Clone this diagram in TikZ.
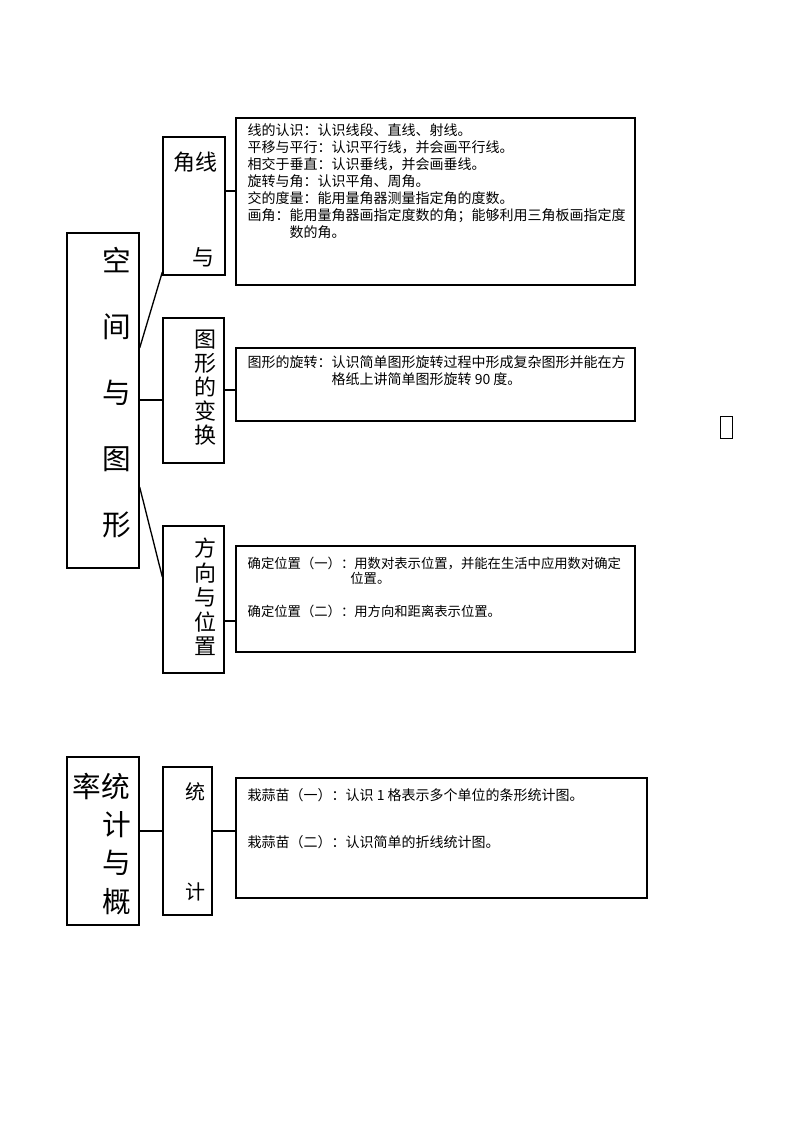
\documentclass[tikz,border=0pt]{standalone}
\usepackage{fontspec}
\setmainfont{Noto Sans CJK SC}
\usetikzlibrary{fit}

\begin{document}
\begin{tikzpicture}
    [x=0.75pt, y=-0.75pt,
    box/.style={draw=black, line width=1pt, inner sep=0pt},
    bigchar/.style={font=\fontsize{21.5}{49.5}\selectfont, align=center, inner sep=0pt},
    midchar/.style={font=\fontsize{16.5}{18}\selectfont, align=center, inner sep=0pt},
    note/.style={font=\fontsize{10.5}{12.75}\selectfont, align=left, inner sep=0pt, anchor=north west},
    line width=1pt]
    \useasboundingbox (0,0) rectangle (800,1132);
    % space and shape
    \node[box, fit={(67,233) (139,568)}] (space) {};
    \node[box, fit={(163,137) (225,275)}] (lines) {};
    \node[box, fit={(163,318) (224,463)}] (trans) {};
    \node[box, fit={(163,526) (224,673)}] (place) {};
    \node[box, fit={(236,118) (635,285)}] (linesnote) {};
    \node[box, fit={(236,348) (635,421)}] (transnote) {};
    \node[box, fit={(236,546) (635,652)}] (placenote) {};
    \node[bigchar] (spacetext) at (117,393) {空\\间\\与\\图\\形};
    \node[midchar] (linestop) at (195,162) {角线};
    \node[midchar] (linesbot) at (203,257) {与};
    \node[midchar] (transtext) at (205,388) {图\\形\\的\\变\\换};
    \node[midchar, font=\fontsize{16.5}{18.4}\selectfont] (placetext) at (205,597) {方\\向\\与\\位\\置};
    \node[note] (linestext) at (247,123) {线的认识：认识线段、直线、射线。\\
      平移与平行：认识平行线，并会画平行线。\\
      相交于垂直：认识垂线，并会画垂线。\\
      旋转与角：认识平角、周角。\\
      交的度量：能用量角器测量指定角的度数。\\
      画角：能用量角器画指定度数的角；能够利用三角板画指定度\\
      \hspace*{3em}数的角。};
    \node[note] (transnotetext) at (247,355) {图形的旋转：认识简单图形旋转过程中形成复杂图形并能在方\\
      \hspace*{6em}格纸上讲简单图形旋转 90 度。};
    \node[note, font=\fontsize{10}{11.5}\selectfont] (placenotetext) at (247,556) {确定位置（一）：用数对表示位置，并能在生活中应用数对确定\\
      \hspace*{7.7em}位置。\\[13pt]
      确定位置（二）：用方向和距离表示位置。};
    \draw (space.east |- 0,348) -- (lines.west |- 0,272);
    \draw (space.east |- 0,400) -- (trans.west |- 0,400);
    \draw (space.east |- 0,487) -- (place.west |- 0,577);
    \draw (lines.east |- 0,191) -- (linesnote.west |- 0,191);
    \draw (trans.east |- 0,390) -- (transnote.west |- 0,390);
    \draw (place.east |- 0,621) -- (placenote.west |- 0,621);
    % missing glyph
    \node[draw, line width=0.6pt, inner sep=0pt, fit={(720,416) (732,438)}] (tofu) {};
    % statistics
    \node[box, fit={(67,757) (139,925)}] (stat) {};
    \node[box, fit={(163,767) (212,915)}] (count) {};
    \node[box, fit={(236,778) (647,898)}] (countnote) {};
    \node[bigchar, font=\fontsize{21.5}{26}\selectfont] (stattop) at (101,786) {率统};
    \node[bigchar, font=\fontsize{21.5}{29}\selectfont] (stattext) at (117,863) {计\\与\\概};
    \node[midchar, font=\fontsize{15}{18}\selectfont] (counttop) at (195,792) {统};
    \node[midchar, font=\fontsize{15}{18}\selectfont] (countbot) at (195,892) {计};
    \node[note] (countnotetext) at (247,788) {栽蒜苗（一）：认识 1 格表示多个单位的条形统计图。\\[22.5pt]
      栽蒜苗（二）：认识简单的折线统计图。};
    \draw (stat.east |- 0,831) -- (count.west |- 0,831);
    \draw (count.east |- 0,831) -- (countnote.west |- 0,831);
\end{tikzpicture}
\end{document}
